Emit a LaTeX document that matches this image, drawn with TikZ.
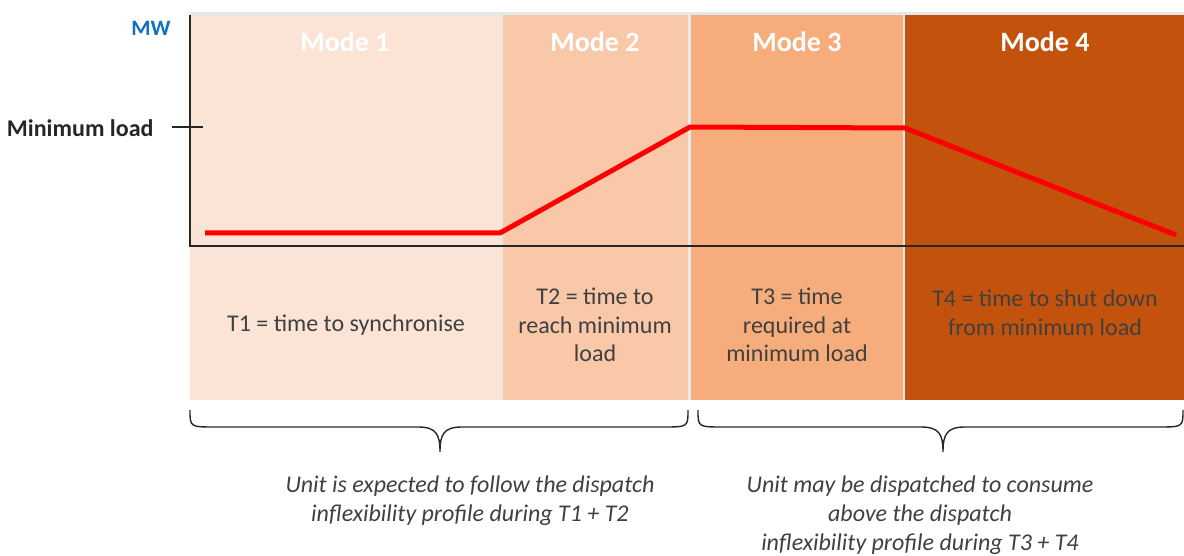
\documentclass[tikz,border=0pt]{standalone}
\usepackage{fontspec}
\setmainfont{Carlito}
\definecolor{mone}{HTML}{FBE3D5}
\definecolor{mtwo}{HTML}{F8C8A8}
\definecolor{mthree}{HTML}{F6AC7B}
\definecolor{mfour}{HTML}{C3530C}
\definecolor{sepgray}{HTML}{E3E8E8}
\definecolor{txtgray}{HTML}{404040}
\definecolor{axisgray}{HTML}{262626}
\definecolor{mwblue}{HTML}{0F71C0}
\begin{document}
\begin{tikzpicture}[x=1pt,y=-1pt,
  band/.style={draw=none, inner sep=0pt, outer sep=0pt, anchor=north west},
  modelbl/.style={text=white, font=\bfseries\fontsize{28}{32}\selectfont},
  desc/.style={text=txtgray, font=\fontsize{24}{28.5}\selectfont, align=center},
  note/.style={text=txtgray, font=\itshape\fontsize{24}{29}\selectfont, align=center},
  brace/.style={draw=axisgray, line width=1.4pt},
  profile/.style={draw=red, line width=5pt, line join=round},
  axis/.style={draw=axisgray, line width=2.5pt}]
\useasboundingbox (0,0) rectangle (1184,556);
% separator background
\node[band, fill=sepgray, minimum width=994pt, minimum height=388pt] (bg) at (190,12) {};
% bands
\node[band, fill=mone, minimum width=311pt, minimum height=385pt] (b1) at (190,15) {};
\node[band, fill=mtwo, minimum width=185pt, minimum height=385pt] (b2) at (503,15) {};
\node[band, fill=mthree, minimum width=212pt, minimum height=385pt] (b3) at (691,15) {};
\node[band, fill=mfour, minimum width=279pt, minimum height=385pt] (b4) at (905,15) {};
% mode labels
\node[modelbl] (l1) at (345,42) {Mode 1};
\node[modelbl] (l2) at (595,42) {Mode 2};
\node[modelbl] (l3) at (797,42) {Mode 3};
\node[modelbl] (l4) at (1045,42) {Mode 4};
% profile
\coordinate (p1) at (205,233);
\coordinate (p2) at (500,233);
\coordinate (p3) at (690,127);
\coordinate (p4) at (905,128);
\coordinate (p5) at (1176,235);
\draw[profile] (p1) -- (p2) -- (p3) -- (p4) -- (p5);
% axes
\coordinate (ytop) at (190,15);
\coordinate (orig) at (190,246);
\coordinate (xend) at (1184,246);
\draw[axis] (ytop) -- (orig) -- (xend);
\coordinate (tl) at (172,127);
\coordinate (tr) at (203,127);
\draw[draw=axisgray, line width=1.5pt] (tl) -- (tr);
\node[anchor=east, text=axisgray, font=\bfseries\fontsize{24}{28}\selectfont] (minl) at (157,128) {Minimum load};
\node[anchor=east, text=mwblue, font=\bfseries\fontsize{22}{26}\selectfont] (mw) at (174,28) {MW};
% descriptions
\node[desc] (d1) at (346,325) {T1 = time to synchronise};
\node[desc] (d2) at (595,325) {T2 = time to\\reach minimum\\load};
\node[desc] (d3) at (797,325) {T3 = time\\required at\\minimum load};
\node[desc] (d4) at (1045,313) {T4 = time to shut down\\from minimum load};
% braces
\draw[brace] (190,410) .. controls (190,427) .. (215,427) -- (418,427)
  .. controls (436,427) and (440,434) .. (440,452)
  .. controls (440,434) and (444,427) .. (462,427) -- (663,427)
  .. controls (688,427) .. (688,410);
\draw[brace] (698,410) .. controls (698,427) .. (723,427) -- (921,427)
  .. controls (939,427) and (943,434) .. (943,452)
  .. controls (943,434) and (947,427) .. (965,427) -- (1158,427)
  .. controls (1183,427) .. (1183,410);
% notes
\node[note] (n1) at (470,501) {Unit is expected to follow the dispatch\\inflexibility profile during T1 + T2};
\node[note] (n2) at (920,515) {Unit may be dispatched to consume\\above the dispatch\\inflexibility profile during T3 + T4};
\end{tikzpicture}
\end{document}
